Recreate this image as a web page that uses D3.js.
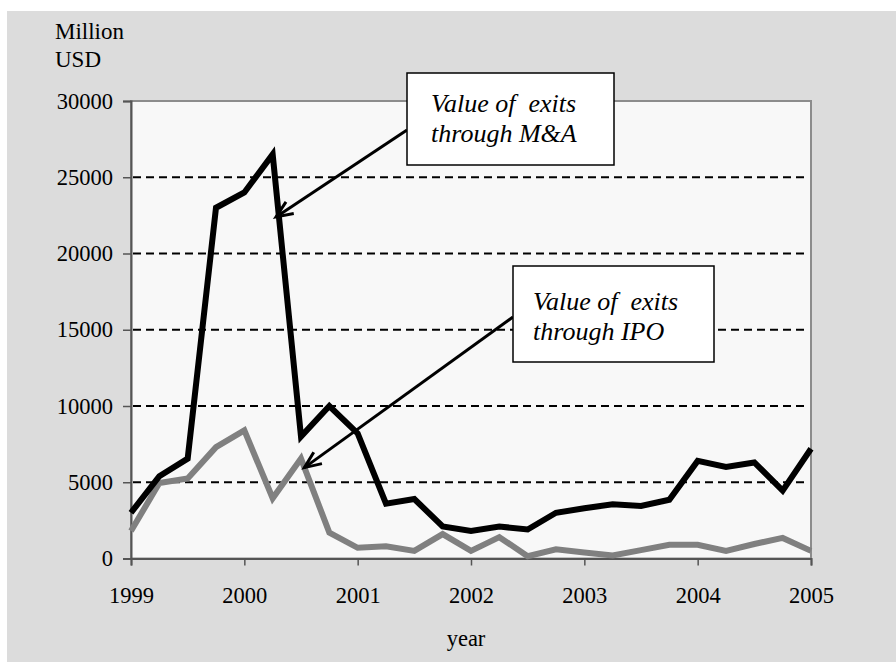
<!DOCTYPE html>
<html><head><meta charset="utf-8">
<script src="https://cdn.jsdelivr.net/npm/d3@7"></script>
<style>
html,body{margin:0;padding:0;background:#fff;}
svg{display:block;}
text{font-family:"Liberation Serif","Times New Roman",serif;fill:#000;}
</style></head>
<body>
<svg id="chart" width="896" height="662"></svg>
<script>
// Quarterly observations 1999 Q1 .. 2005 Q1
const periods = d3.range(25).map(i => 1999 + i * 0.25);
const maValues = [3000, 5400, 6550, 23000, 24000, 26500, 8000, 10000, 8200, 3600, 3900, 2100, 1800, 2100, 1900, 3000, 3300, 3550, 3450, 3850, 6400, 6000, 6300, 4450, 7200];
const ipoValues = [1800, 4950, 5250, 7300, 8400, 3950, 6550, 1700, 700, 800, 500, 1600, 500, 1400, 150, 600, 400, 200, 550, 900, 900, 500, 950, 1350, 500];
const yearTicks = [1999, 2000, 2001, 2002, 2003, 2004, 2005];
const valueTicks = [0, 5000, 10000, 15000, 20000, 25000, 30000];
const gridValues = [5000, 10000, 15000, 20000, 25000];
const annotations = [
  {lines: ["Value of  exits", "through M&A"], target: [2000.28, 22400]},
  {lines: ["Value of  exits", "through IPO"], target: [2000.53, 5960]}
];

const svg = d3.select("#chart");
const L = 131, R = 811, T = 101, B = 558.5;
const x = d3.scaleLinear().domain([1999, 2005]).range([L, R]);
const y = d3.scaleLinear().domain([0, 30000]).range([B, T]);

// outer panel
svg.append("rect").attr("x", 7).attr("y", 11).attr("width", 889).attr("height", 651).attr("fill", "#dcdcdc");
// plot area
svg.append("rect").attr("x", L).attr("y", T).attr("width", R - L).attr("height", B - T)
  .attr("fill", "#f8f8f8").attr("stroke", "#8c8c8c").attr("stroke-width", 2);

// grid lines
svg.append("g").selectAll("line").data(gridValues).join("line")
  .attr("x1", L + 2).attr("x2", R - 6)
  .attr("y1", d => y(d)).attr("y2", d => y(d))
  .attr("stroke", "#000").attr("stroke-width", 2).attr("stroke-dasharray", "8,5");

// axes
const yAxis = svg.append("g").attr("transform", `translate(${L},0)`)
  .call(d3.axisLeft(y).tickValues(valueTicks).tickFormat(d3.format("d")).tickSize(8).tickPadding(10));
const xAxis = svg.append("g").attr("transform", `translate(0,${B})`)
  .call(d3.axisBottom(x).tickValues(yearTicks).tickFormat(d3.format("d")).tickSize(7).tickPadding(22));
[yAxis, xAxis].forEach(g => {
  g.attr("font-family", null).attr("font-size", null);
  g.select(".domain").attr("stroke", "#555").attr("stroke-width", 2);
  g.selectAll(".tick line").attr("stroke", "#555").attr("stroke-width", 1.5);
  g.selectAll(".tick text").style("font-size", "22.5px").style("font-family", "'Liberation Serif', serif").attr("fill", "#000");
});

// lines
const line = d3.line().x((d, i) => x(periods[i])).y(d => y(d));
svg.append("path").datum(ipoValues).attr("d", line).attr("fill", "none")
  .attr("stroke", "#808080").attr("stroke-width", 6).attr("stroke-linejoin", "miter");
svg.append("path").datum(maValues).attr("d", line).attr("fill", "none")
  .attr("stroke", "#000").attr("stroke-width", 6).attr("stroke-linejoin", "miter");

// axis titles
svg.append("text").attr("x", 55).attr("y", 39).style("font-size", "23px").text("Million");
svg.append("text").attr("x", 55).attr("y", 67).style("font-size", "23px").text("USD");
svg.append("text").attr("x", 466).attr("y", 646).attr("text-anchor", "middle").style("font-size", "22.5px").text("year");

// annotation boxes
const boxes = [
  {x: 407, y: 73, w: 207, h: 92, tx: 431, ty: 112, ax: 407, ay: 130},
  {x: 513, y: 266, w: 201, h: 96, tx: 533, ty: 310, ax: 513, ay: 317}
];
annotations.forEach((a, i) => {
  const b = boxes[i];
  const tx = x(a.target[0]), ty = y(a.target[1]);
  const ang = Math.atan2(ty - b.ay, tx - b.ax);
  svg.append("line").attr("x1", b.ax).attr("y1", b.ay).attr("x2", tx).attr("y2", ty)
    .attr("stroke", "#000").attr("stroke-width", 3);
  const hl = 18, ha = 0.4;
  const p1 = [tx - hl * Math.cos(ang - ha), ty - hl * Math.sin(ang - ha)];
  const p2 = [tx - hl * Math.cos(ang + ha), ty - hl * Math.sin(ang + ha)];
  svg.append("path").attr("d", `M${p1[0]},${p1[1]}L${tx},${ty}L${p2[0]},${p2[1]}`)
    .attr("fill", "none").attr("stroke", "#000").attr("stroke-width", 3);
  svg.append("rect").attr("x", b.x).attr("y", b.y).attr("width", b.w).attr("height", b.h)
    .attr("fill", "#fff").attr("stroke", "#000").attr("stroke-width", 1.5);
  a.lines.forEach((ln, j) => {
    svg.append("text").attr("x", b.tx).attr("y", b.ty + j * 30).style("font-size", "26px")
      .attr("font-style", "italic").attr("xml:space", "preserve").style("white-space", "pre").text(ln);
  });
});
</script>
</body></html>
